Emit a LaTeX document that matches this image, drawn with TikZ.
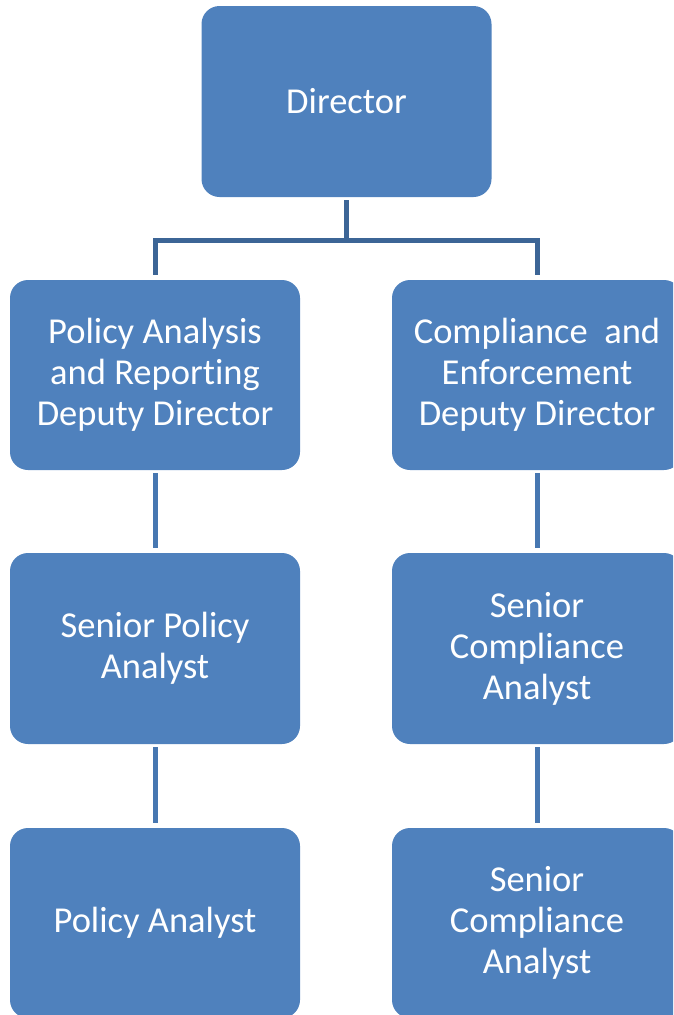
\documentclass[tikz,border=0pt]{standalone}
\usepackage{fontspec}
\setmainfont[Ligatures=NoCommon]{Carlito}
\definecolor{boxblue}{HTML}{4F81BD}
\definecolor{busblue}{HTML}{3C6596}
\definecolor{linkblue}{HTML}{4777B1}
\begin{document}
\begin{tikzpicture}[x=1pt,y=1pt,
  orgbox/.style={fill=boxblue, draw=none, rounded corners=18pt,
    minimum width=290pt, minimum height=190pt, align=center,
    text=white, font=\fontsize{36.5}{41}\selectfont, inner sep=0pt},
  busline/.style={draw=busblue, line width=5pt},
  linkline/.style={draw=linkblue, line width=5pt}]
\useasboundingbox (0,0) rectangle (673,-1015);
\clip (0,0) rectangle (673,-1015);
\node[orgbox, minimum height=191pt] (dir) at (346.5,-101.5) {Director};
\node[orgbox] (dd1) at (155,-375) {Policy Analysis\\and Reporting\\Deputy Director};
\node[orgbox] (dd2) at (537,-375) {Compliance~ and\\Enforcement\\Deputy Director};
\node[orgbox, minimum height=191pt] (spa) at (155,-648.5) {Senior Policy\\Analyst};
\node[orgbox, minimum height=191pt] (sca) at (537,-648.5) {Senior\\Compliance\\Analyst};
\node[orgbox] (pa) at (155,-923) {Policy Analyst};
\node[orgbox] (sca2) at (537,-923) {Senior\\Compliance\\Analyst};
\coordinate (bus) at (346.5,-240);
\draw[busline] ([yshift=-3pt]dir.south) -- (bus);
\draw[busline] ([yshift=5pt]dd1.north) |- (bus) -| ([yshift=5pt]dd2.north);
\draw[linkline, shorten <=3pt, shorten >=5pt] (dd1.south) -- (spa.north);
\draw[linkline, shorten <=3pt, shorten >=5pt] (dd2.south) -- (sca.north);
\draw[linkline, shorten <=3pt, shorten >=5pt] (spa.south) -- (pa.north);
\draw[linkline, shorten <=3pt, shorten >=5pt] (sca.south) -- (sca2.north);
\end{tikzpicture}
\end{document}
